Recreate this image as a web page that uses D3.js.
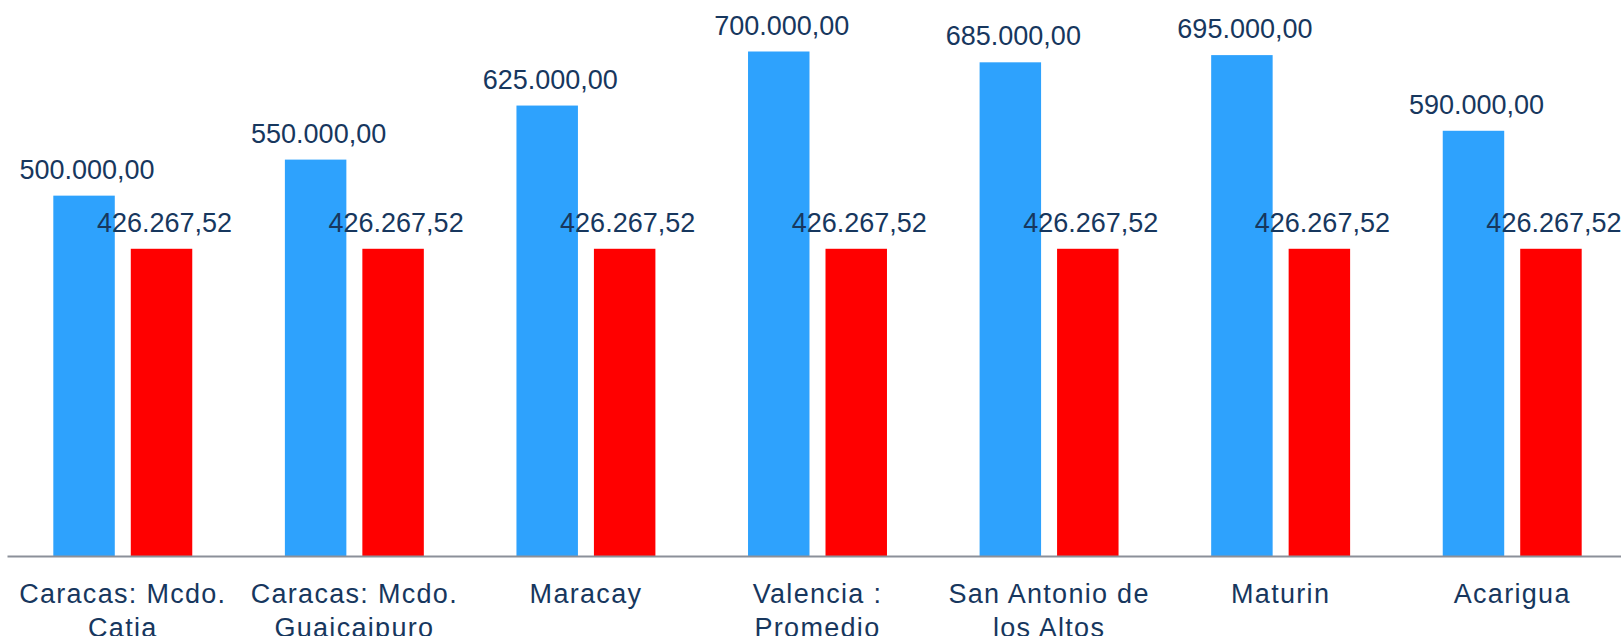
<!DOCTYPE html>
<html>
<head>
<meta charset="utf-8">
<script src="https://cdn.jsdelivr.net/npm/d3@7"></script>
<style>
  html, body { margin: 0; padding: 0; background: #fff; overflow: hidden; }
  svg { display: block; }
  text { font-family: "Liberation Sans", Arial, sans-serif; fill: #17375e; }
</style>
</head>
<body>
<script>
// chart data
const categories = [
  ["Caracas: Mcdo.", "Catia"],
  ["Caracas: Mcdo.", "Guaicaipuro"],
  ["Maracay"],
  ["Valencia :", "Promedio"],
  ["San Antonio de", "los Altos"],
  ["Maturin"],
  ["Acarigua"]
];
const seriesNames = ["precio", "referencia"];
const precio = [500000, 550000, 625000, 700000, 685000, 695000, 590000];
const referencia = [426267.52, 426267.52, 426267.52, 426267.52, 426267.52, 426267.52, 426267.52];
const colors = ["#2ea2fd", "#ff0000"];

const w = 1621;
const h = 636;

const svg = d3.select("body")
  .append("svg")
    .attr("width", w)
    .attr("height", h);

const keys = categories.map(c => c.join(" "));

// outer scale: one band per city
const x0 = d3.scaleBand()
  .domain(keys)
  .range([7, 1628])
  .paddingInner(0.4)
  .paddingOuter(0.2);

// inner scale: the two bars of a group
const x1 = d3.scaleBand()
  .domain(seriesNames)
  .range([0, x0.bandwidth()])
  .paddingInner(0.2065);

const y = d3.scaleLinear()
  .domain([0, 700000])
  .range([556, 51.5]);

const fmt = d3.formatLocale({decimal: ",", thousands: ".", grouping: [3], currency: ["", ""]}).format(",.2f");

const rows = keys.map((k, i) => ({key: k, values: [precio[i], referencia[i]]}));

const groups = svg.selectAll(".group")
  .data(rows)
  .enter()
  .append("g")
    .classed("group", true)
    .attr("transform", d => "translate(" + x0(d.key) + ",0)");

groups.selectAll("rect")
  .data(d => d.values.map((v, j) => ({s: seriesNames[j], v: v, j: j})))
  .enter()
  .append("rect")
    .attr("x", d => x1(d.s))
    .attr("y", d => y(d.v))
    .attr("width", x1.bandwidth())
    .attr("height", d => y(0) - y(d.v))
    .style("fill", d => colors[d.j]);

groups.selectAll(".val")
  .data(d => d.values.map((v, j) => ({s: seriesNames[j], v: v})))
  .enter()
  .append("text")
    .classed("val", true)
    .attr("x", d => x1(d.s) + x1.bandwidth() / 2 + 3)
    .attr("y", d => y(d.v) - 17)
    .attr("text-anchor", "middle")
    .style("font-size", "27px")
    .text(d => fmt(d.v));

// x axis
const xAxis = d3.axisBottom(x0).tickSize(0).tickFormat("");

const axisG = svg.append("g")
  .classed("x axis", true)
  .attr("transform", "translate(0,556)")
  .call(xAxis);

axisG.select(".domain")
  .attr("stroke", "#8b9099")
  .attr("stroke-width", 2);

axisG.selectAll(".tick")
  .append("text")
    .attr("text-anchor", "middle")
    .attr("y", 46.7)
    .style("font-size", "27px")
    .style("letter-spacing", "1.3px")
    .each(function(d, i) {
      const t = d3.select(this);
      categories[i].forEach((line, k) => {
        t.append("tspan")
          .attr("x", 0)
          .attr("dy", k === 0 ? 0 : 34)
          .text(line);
      });
    });
</script>
</body>
</html>
